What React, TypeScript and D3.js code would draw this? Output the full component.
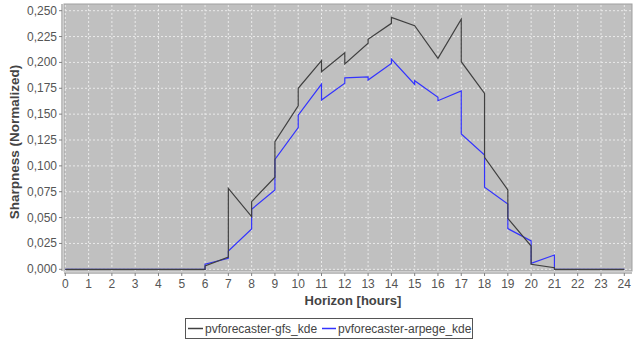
import React from "react";
import * as d3 from "d3";

const hourTicks = d3.range(0, 25);
const yTicks = [0, 0.025, 0.05, 0.075, 0.1, 0.125, 0.15, 0.175, 0.2, 0.225, 0.25];

// value at the start and at the end of each hour interval [h, h+1]
const gfsStart = [0, 0, 0, 0, 0, 0, 0.0032, 0.0783, 0.0654, 0.1234, 0.175, 0.191, 0.1985, 0.2224, 0.2436, 0.2355, 0.204, 0.2007, 0.1083, 0.0493, 0.0048, 0, 0, 0];
const gfsEnd = [0, 0, 0, 0, 0, 0, 0.0119, 0.0509, 0.089, 0.158, 0.2017, 0.2094, 0.2185, 0.2378, 0.2355, 0.204, 0.2417, 0.17, 0.0767, 0.0225, 0.0015, 0, 0, 0];
const arpegeStart = [0, 0, 0, 0, 0, 0, 0.005, 0.0177, 0.058, 0.1063, 0.149, 0.1637, 0.185, 0.183, 0.2033, 0.1823, 0.163, 0.1308, 0.0793, 0.0393, 0.0058, 0, 0, 0];
const arpegeEnd = [0, 0, 0, 0, 0, 0, 0.0106, 0.039, 0.0767, 0.137, 0.179, 0.1798, 0.186, 0.199, 0.1788, 0.1663, 0.1724, 0.1105, 0.0631, 0.0274, 0.0138, 0, 0, 0];

const seriesNames = ["pvforecaster-gfs_kde", "pvforecaster-arpege_kde"];
const seriesColors = ["#404040", "#3333ff"];

const W = 634;
const H = 341;
const plot = { left: 64, top: 4, right: 632, bottom: 271 };
const FONT = "'Liberation Sans', Arial, sans-serif";

function buildPoints(start: number[], end: number[]): [number, number][] {
  const pts: [number, number][] = [];
  start.forEach((s, h) => {
    pts.push([h, s]);
    pts.push([h + 1, end[h]]);
  });
  return pts;
}

export default function App() {
  const x = d3.scaleLinear().domain([0, 24]).range([65.3, 624.3]);
  const y = d3.scaleLinear().domain([0, 0.25]).range([269.3, 10.7]);
  const line = d3
    .line<[number, number]>()
    .x((d) => x(d[0]))
    .y((d) => y(d[1]));
  const fmt = (v: number) => d3.format(".3f")(v).replace(".", ",");

  const series = [
    buildPoints(gfsStart, gfsEnd),
    buildPoints(arpegeStart, arpegeEnd),
  ];

  return (
    <svg
      width={W}
      height={H}
      style={{ position: "absolute", left: 0, top: 0, background: "#fff" }}
      fontFamily={FONT}
    >
      <rect
        x={plot.left}
        y={plot.top}
        width={plot.right - plot.left}
        height={plot.bottom - plot.top}
        fill="#c0c0c0"
        stroke="#a0a0a0"
        strokeWidth={1}
      />
      {hourTicks.map((h) => (
        <line
          key={"gx" + h}
          x1={x(h)}
          x2={x(h)}
          y1={plot.top + 1}
          y2={plot.bottom}
          stroke="#eaeaea"
          strokeWidth={1}
          strokeDasharray="2,2"
        />
      ))}
      {yTicks.map((v) => (
        <line
          key={"gy" + v}
          x1={plot.left + 1}
          x2={plot.right}
          y1={y(v)}
          y2={y(v)}
          stroke="#eaeaea"
          strokeWidth={1}
          strokeDasharray="2,2"
        />
      ))}
      {/* series: arpege first, gfs on top */}
      {[1, 0].map((i) => (
        <path
          key={"s" + i}
          d={line(series[i]) || ""}
          fill="none"
          stroke={seriesColors[i]}
          strokeWidth={1.2}
          strokeLinejoin="miter"
        />
      ))}
      {/* axes */}
      <line x1={62} x2={62} y1={plot.top} y2={plot.bottom} stroke="#808080" />
      {yTicks.map((v) => (
        <g key={"ty" + v}>
          <line x1={59} x2={62} y1={y(v)} y2={y(v)} stroke="#808080" />
          <text
            x={57}
            y={y(v)}
            textAnchor="end"
            dominantBaseline="central"
            fontSize={12}
            fill="#555"
          >
            {fmt(v)}
          </text>
        </g>
      ))}
      <line x1={plot.left} x2={plot.right} y1={273} y2={273} stroke="#808080" />
      {hourTicks.map((h) => (
        <g key={"tx" + h}>
          <line x1={x(h)} x2={x(h)} y1={273} y2={276} stroke="#808080" />
          <text
            x={x(h)}
            y={288}
            textAnchor="middle"
            fontSize={12}
            fill="#555"
          >
            {h}
          </text>
        </g>
      ))}
      <text
        x={353}
        y={305}
        textAnchor="middle"
        fontSize={13}
        fontWeight="bold"
        fill="#444"
      >
        Horizon [hours]
      </text>
      <text
        transform="translate(19,142) rotate(-90)"
        textAnchor="middle"
        fontSize={13.5}
        fontWeight="bold"
        fill="#444"
      >
        Sharpness (Normalized)
      </text>
      {/* legend */}
      <rect x={185.5} y={318.5} width={287} height={20} fill="#fff" stroke="#555" />
      <line x1={188} x2={203} y1={328.5} y2={328.5} stroke={seriesColors[0]} strokeWidth={1.5} />
      <text x={205} y={332.5} fontSize={12} fill="#444">
        {seriesNames[0]}
      </text>
      <line x1={322} x2={336} y1={328.5} y2={328.5} stroke={seriesColors[1]} strokeWidth={1.5} />
      <text x={338} y={332.5} fontSize={12} fill="#444">
        {seriesNames[1]}
      </text>
    </svg>
  );
}
